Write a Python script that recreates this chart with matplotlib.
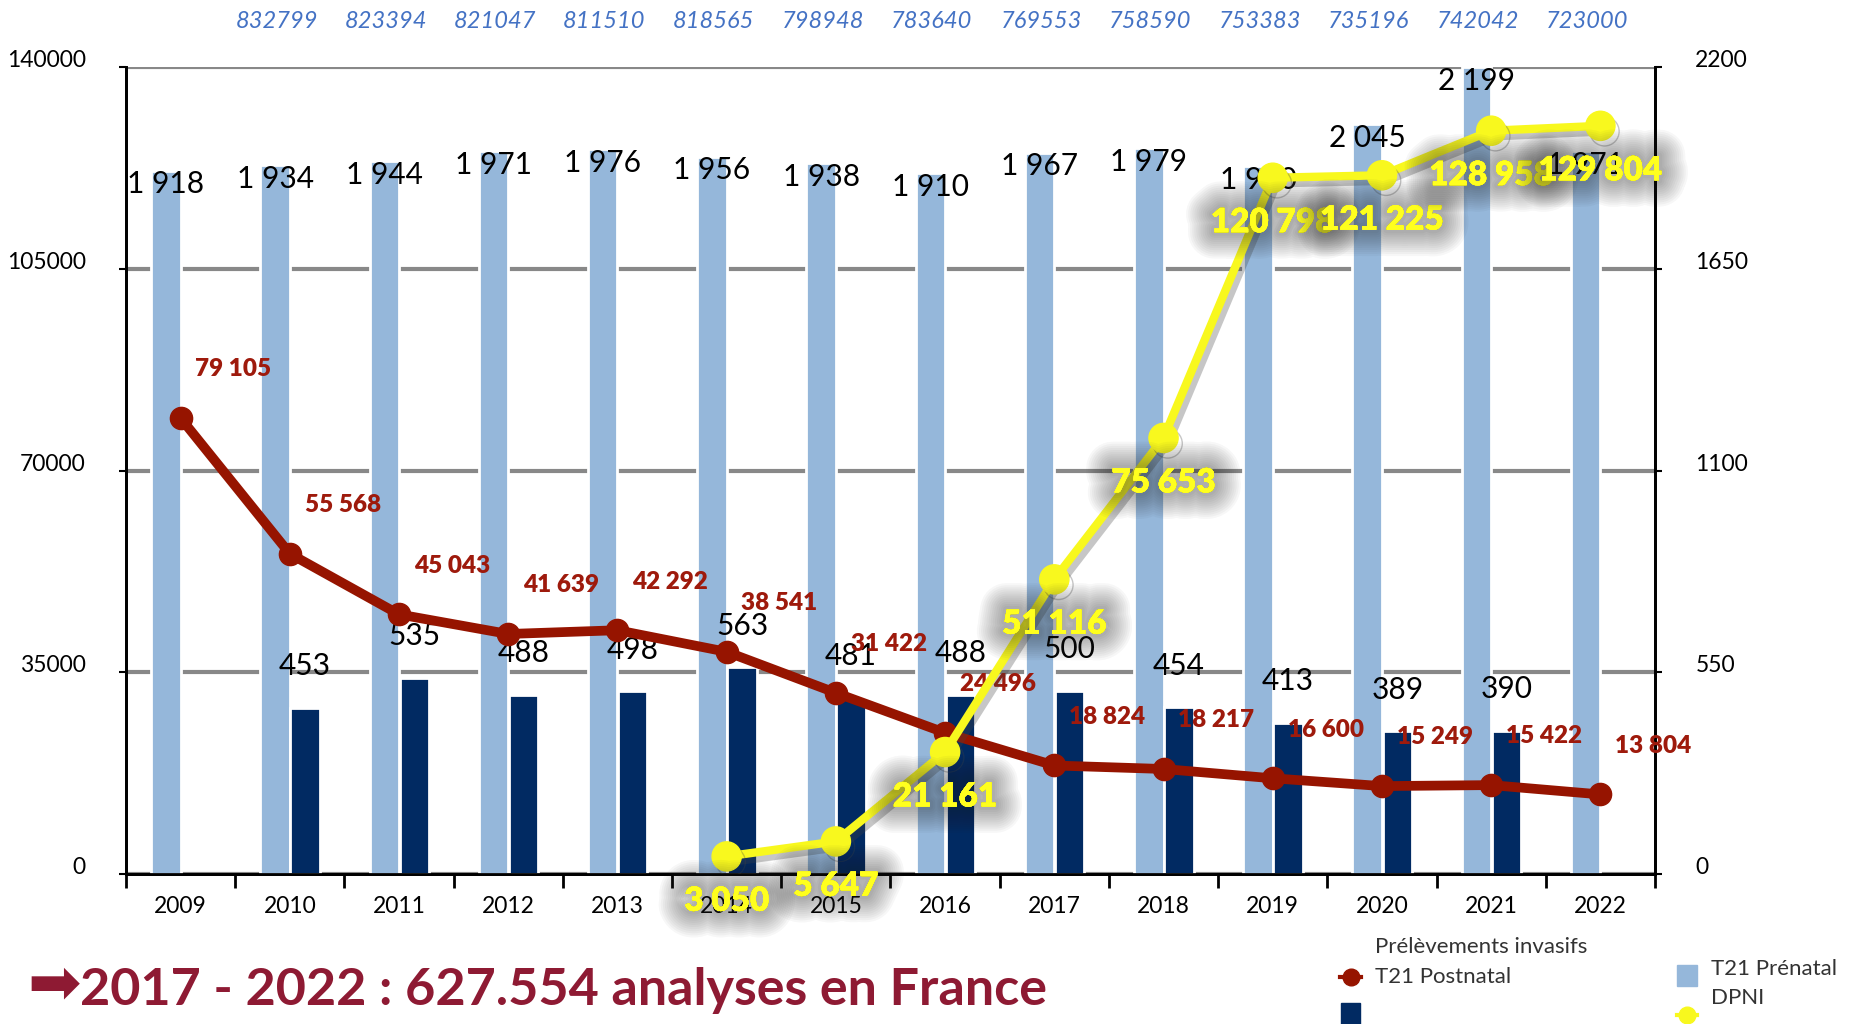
import matplotlib.pyplot as plt
import matplotlib.patheffects as pe
import matplotlib.transforms as mtransforms
from matplotlib.lines import Line2D
from matplotlib.patches import Rectangle
import numpy as np

plt.rcParams['font.family'] = ['Lato', 'DejaVu Sans']

years = ['2009', '2010', '2011', '2012', '2013', '2014', '2015',
         '2016', '2017', '2018', '2019', '2020', '2021', '2022']
t21_prenatal = [1918, 1934, 1944, 1971, 1976, 1956, 1938,
                1910, 1967, 1979, 1930, 2045, 2199, 1971]
t21_postnatal = [np.nan, 453, 535, 488, 498, 563, 481,
                 488, 500, 454, 413, 389, 390, np.nan]
invasifs = [79105, 55568, 45043, 41639, 42292, 38541, 31422,
            24496, 18824, 18217, 16600, 15249, 15422, 13804]
dpni = [np.nan, np.nan, np.nan, np.nan, np.nan, 3050, 5647,
        21161, 51116, 75653, 120798, 121225, 128958, 129804]
# naissances 2010-2022
births = [832799, 823394, 821047, 811510, 818565, 798948, 783640,
          769553, 758590, 753383, 735196, 742042, 723000]

left_ticks = [0, 35000, 70000, 105000, 140000]
right_ticks = [0, 550, 1100, 1650, 2200]

c_light = '#95B7DA'
c_navy = '#012A62'
c_red = '#961400'
c_red_txt = '#9E1A0C'
c_yellow = '#F8F81E'
c_title = '#8E1A33'


def fmt(v):
    return f"{int(v):,}".replace(",", " ")


fig = plt.figure(figsize=(18.5, 10.24), dpi=100, facecolor='white')
ax = fig.add_axes([0.0681, 0.1465, 0.8265, 0.788])
ax2 = ax.twinx()

x = np.arange(len(years))

# bars on the right axis
ax2.bar(x - 0.135, t21_prenatal, width=0.27, color=c_light,
        edgecolor='white', linewidth=2, zorder=3)
ax2.bar(x + 0.14, t21_postnatal, width=0.27, color=c_navy,
        edgecolor='white', linewidth=2, zorder=3)
ax2.set_ylim(0, 2200)
ax2.set_yticks(right_ticks)
ax2.set_axisbelow(True)
ax2.grid(axis='y', color='#888888', linewidth=3)
ax2.tick_params(axis='y', length=5, width=1.5, labelsize=16.5, pad=24)
for t in ax2.get_yticklabels():
    t.set_va('baseline')

for xi, v in zip(x, t21_prenatal):
    ax2.annotate(fmt(v), (xi - 0.135, v), xytext=(0, -10),
                 textcoords='offset points', ha='center', va='center',
                 fontsize=21.5, zorder=6)
for xi, v in zip(x, t21_postnatal):
    if np.isnan(v):
        continue
    ax2.annotate(fmt(v), (xi + 0.14, v), xytext=(0, 30),
                 textcoords='offset points', ha='center', va='center',
                 fontsize=21.5, zorder=6)

# lines on the left axis, drawn above the bars
ax.set_zorder(ax2.get_zorder() + 1)
ax.patch.set_visible(False)

ax.plot(x, invasifs, color=c_red, linewidth=7, marker='o',
        markersize=16, zorder=4)
for xi, v in zip(x, invasifs):
    ax.annotate(fmt(v), (xi, v), xytext=(38, 35), textcoords='offset points',
                ha='center', va='center', fontsize=17.5, fontweight='heavy',
                color=c_red_txt, zorder=5)

ax.plot(x, dpni, color=c_yellow, linewidth=6, marker='o', markersize=21,
        zorder=5, path_effects=[pe.SimpleLineShadow(offset=(3, -4),
                                                   shadow_color='#444444',
                                                   alpha=0.3),
                                pe.Normal()])

# soft dark halo behind the DPNI values
glow = [pe.withStroke(linewidth=w, foreground='#222222', alpha=0.035)
        for w in range(38, 3, -3)]
for xi, v in zip(x, dpni):
    if np.isnan(v):
        continue
    ax.annotate(fmt(v), (xi, v), xytext=(0, -32), textcoords='offset points',
                ha='center', va='center', fontsize=24, fontweight='heavy',
                color='#FFFF1E', zorder=7,
                path_effects=glow + [pe.Normal()])

ax.set_ylim(0, 140000)
ax.set_yticks(left_ticks)
ax.set_yticklabels([str(t) for t in left_ticks])
ax.tick_params(axis='y', length=5, width=1.5, labelsize=16.5, pad=24)
for t in ax.get_yticklabels():
    t.set_va('baseline')

ax.set_xlim(-0.5, len(years) - 0.5)
ax.set_xticks(x)
ax.set_xticklabels(years, fontsize=16.5)
ax.set_xticks(np.arange(-0.5, len(years)), minor=True)
ax.tick_params(axis='x', which='major', length=0, pad=16)
ax.tick_params(axis='x', which='minor', length=10, width=2, direction='out')

for a in (ax, ax2):
    a.spines['top'].set_visible(False)
    for s in ('left', 'right', 'bottom'):
        a.spines[s].set_color('black')
        a.spines[s].set_linewidth(2)

# births per year above the plot
tr = mtransforms.blended_transform_factory(ax.transData, ax.transAxes)
for xi, b in zip(x[1:], births):
    ax.text(xi - 0.12, 1.056, str(b), transform=tr, ha='center', va='center',
            fontsize=17, style='italic', color='#4472C4')

# legend
fig.text(0.743, 0.075, 'Prélèvements invasifs', fontsize=16,
         color='#333333', ha='left', va='center')
fig.add_artist(Line2D([0.7245, 0.7355], [0.046, 0.046], color=c_red,
                      linewidth=3, transform=fig.transFigure))
fig.add_artist(Line2D([0.730], [0.046], marker='o', markersize=12,
                      color=c_red, transform=fig.transFigure))
fig.text(0.743, 0.046, 'T21 Postnatal', fontsize=16,
         color='#333333', ha='left', va='center')
fig.add_artist(Rectangle((0.7249, 0.0), 0.0103, 0.0205, color=c_navy,
                         transform=fig.transFigure))
fig.add_artist(Rectangle((0.9065, 0.0371), 0.0108, 0.0205, color=c_light,
                         transform=fig.transFigure))
fig.text(0.925, 0.0537, 'T21 Prénatal', fontsize=16,
         color='#333333', ha='left', va='center')
fig.text(0.925, 0.0254, 'DPNI', fontsize=16,
         color='#333333', ha='left', va='center')
fig.add_artist(Line2D([0.9065, 0.9175], [0.0088, 0.0088], color=c_yellow,
                      linewidth=3, transform=fig.transFigure))
fig.add_artist(Line2D([0.912], [0.0088], marker='o', markersize=12,
                      color=c_yellow, transform=fig.transFigure))

# summary line
fig.text(0.015, 0.038, '\u27a1', fontsize=46, color=c_title,
         family='DejaVu Sans', ha='left', va='center')
fig.text(0.043, 0.0186, '2017 - 2022 : 627.554 analyses en France',
         fontsize=37.5, fontweight='bold', color=c_title, ha='left',
         va='baseline')

fig.savefig('out.png', dpi=100)
